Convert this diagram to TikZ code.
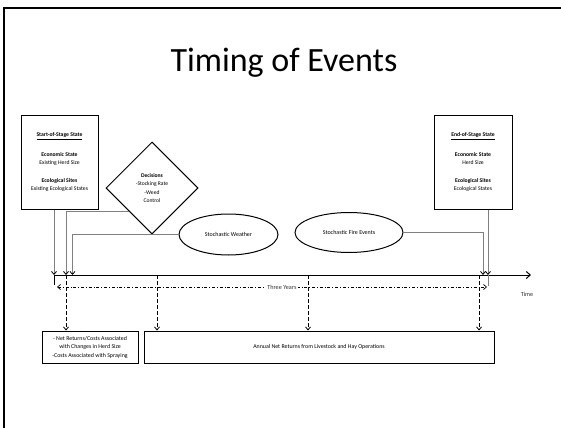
\documentclass[tikz,border=0pt]{standalone}
\usepackage{fontspec}
\setmainfont{Carlito}
\usepackage{tikz}
\usetikzlibrary{arrows.meta,shapes.geometric,calc}

\begin{document}
\begin{tikzpicture}[x=1pt,y=-1pt,
	state box/.style = {rectangle,draw,line width=1pt,minimum width=77pt,minimum height=94pt,
		inner sep=1pt,align=center,font=\fontsize{5.7}{8}\selectfont},
	decision node/.style = {diamond,draw,line width=1pt,minimum width=92pt,minimum height=92pt,
		inner sep=0pt,align=center,font=\fontsize{5.6}{8.3}\selectfont},
	event node/.style = {ellipse,draw,line width=1pt,inner sep=0pt,font=\fontsize{6}{7}\selectfont},
	return box/.style = {rectangle,draw,line width=1pt,minimum height=32pt,inner sep=1pt,
		align=center,font=\fontsize{5.9}{8.5}\selectfont},
	feed/.style = {draw=gray,line width=0.8pt,-{Straight Barb[length=3pt,width=5pt,color=black]}},
	drop/.style = {line width=0.8pt,dash pattern=on 4pt off 2pt,-{Straight Barb[length=3pt,width=5pt]}},
	small label/.style = {font=\fontsize{6.2}{7}\selectfont,text=black!80}]
	\useasboundingbox (0,0) rectangle (561,428);
	% slide frame
	\draw[line width=2.5pt] (4,428) -- (4,8) -- (561,8);
	\node[font=\fontsize{34}{40}\selectfont] at (284,63) (title) {Timing of Events};
	% states and decisions
	\node[state box] at (59.5,162) (start) {\underline{\textbf{Start-of-Stage State}}\\[12pt]
		\textbf{Economic State}\\ Existing Herd Size\\[10pt]
		\textbf{Ecological Sites}\\ Existing Ecological States};
	\node[state box,minimum width=78pt] at (473,162) (end) {\underline{\textbf{End-of-Stage State}}\\[12pt]
		\textbf{Economic State}\\ Herd Size\\[10pt]
		\textbf{Ecological Sites}\\ Ecological States};
	\node[decision node] at (152,188) (dec) {\textbf{Decisions}\\ -Stocking Rate\\ -Weed\\ Control};
	\node[event node,minimum width=99pt,minimum height=41pt] at (228.5,234.5) (weather) {Stochastic Weather};
	\node[event node,minimum width=108pt,minimum height=40pt] at (349,232.5) (fire) {Stochastic Fire Events};
	% returns
	\node[return box,minimum width=96pt] at (90,347) (stagecost) {- Net Returns/Costs Associated\\
		with Changes in Herd Size\\ -Costs Associated with Spraying};
	\node[return box,minimum width=350pt] at (319,347) (annual) {Annual Net Returns from Livestock and Hay Operations};
	% time axis
	\coordinate (t0) at (54,275);
	\coordinate (t2) at (66,275);
	\coordinate (t3) at (72.5,275);
	\coordinate (t4) at (483,275);
	\coordinate (t5) at (488,275);
	\coordinate (tend) at (531,275);
	\coordinate (y1) at (157,275);
	\coordinate (y2) at (308,275);
	\coordinate (y3) at (479,275);
	\coordinate (ya) at (57,287);
	\coordinate (yb) at (487,287);
	\draw[line width=1pt,-{Straight Barb[length=4pt,width=7pt]}] (t0) -- (tend);
	\node[small label] at (527,294) (time) {Time};
	\draw[line width=0.8pt] (t0) -- ++(0,10);
	\draw[draw=gray,line width=0.8pt] (t5) -- ++(0,11);
	\draw[line width=0.7pt,dash dot,{Straight Barb[length=3pt,width=5pt]}-{Straight Barb[length=3pt,width=5pt]}]
		(ya) -- node[small label,fill=white,pos=.523,inner sep=2pt] (span) {Three Years} (yb);
	% inputs to the stage
	\draw[feed] (t0 |- start.south) -- (t0);
	\draw[feed] (dec.south west) -| (t2);
	\draw[feed] (weather.west) -| (t3);
	\draw[feed] (fire.east) -| (t4);
	\draw[feed] (t5 |- end.south) -- (t5);
	% returns in each year
	\draw[drop] (t2) -- (t2 |- stagecost.north);
	\draw[drop] (y1) -- (y1 |- annual.north);
	\draw[drop] (y2) -- (y2 |- annual.north);
	\draw[drop] (y3) -- (y3 |- annual.north);
\end{tikzpicture}
\end{document}
